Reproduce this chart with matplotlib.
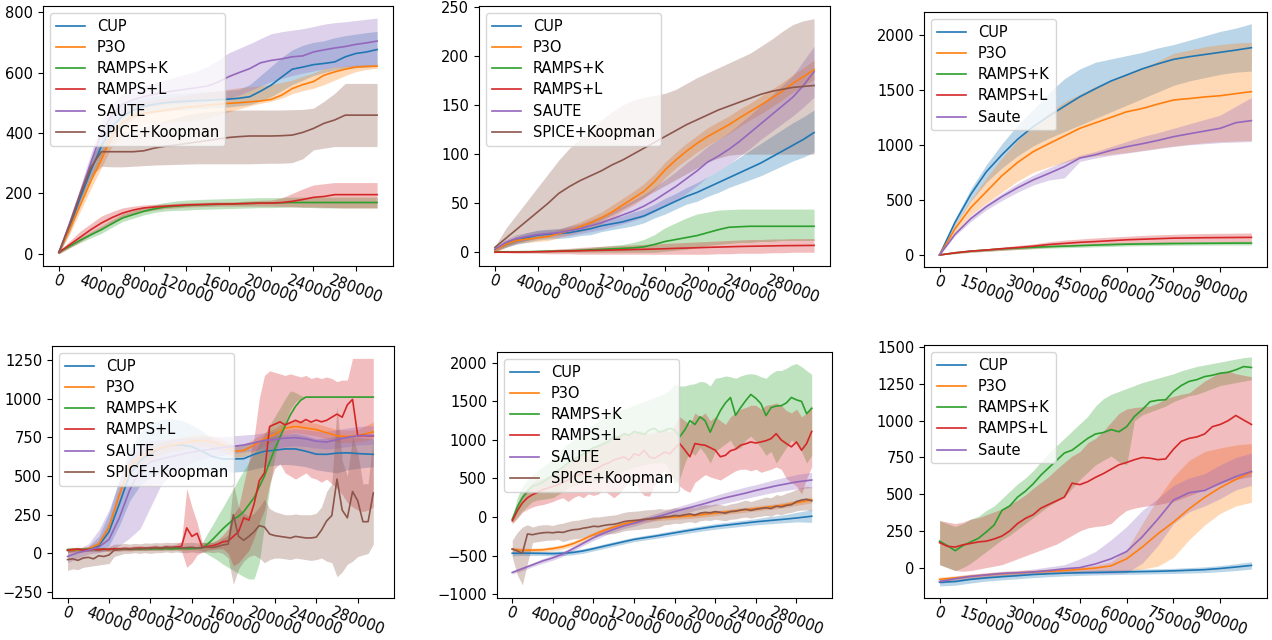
import numpy as np
import matplotlib
matplotlib.use("Agg")
import matplotlib.pyplot as plt

# ---------------------------------------------------------------- x grids
x_300k = np.arange(0, 310000, 10000)            # 31 pts, top panels
x_1m = np.arange(0, 1050000, 50000)             # 21 pts
x_fine = np.arange(0, 300000, 5000)             # 60 pts, noisy bottom panels
x_coarse = np.append(np.arange(0, 290000, 10000), 295000)  # 30 pts
x_1m_fine = np.arange(0, 1025000, 25000)        # 41 pts

# ---------------------------------------------------------------- panel 1 (top left)
a1_cup = [5, 90, 185, 275, 355, 420, 455, 475, 488, 495,
          500, 503, 505, 507, 508, 510, 512, 515, 520, 538,
          558, 585, 611, 618, 626, 630, 635, 652, 663, 668, 676]
a1_cup_lo = [0, 70, 160, 245, 320, 380, 420, 445, 460, 468,
             472, 476, 478, 480, 482, 484, 486, 490, 494, 505,
             520, 540, 560, 575, 590, 600, 608, 613, 616, 618, 620]
a1_cup_hi = [10, 110, 210, 305, 390, 460, 490, 505, 515, 522,
             527, 530, 532, 535, 537, 539, 541, 545, 560, 590,
             620, 650, 675, 690, 700, 705, 715, 722, 727, 732, 736]
a1_p3o = [5, 80, 160, 240, 311, 390, 435, 455, 465, 470,
          475, 480, 485, 488, 492, 495, 498, 500, 503, 506,
          511, 525, 547, 560, 570, 591, 602, 611, 618, 620, 621]
a1_p3o_lo = [0, 65, 140, 215, 285, 355, 395, 415, 425, 430,
             435, 438, 440, 443, 450, 460, 470, 480, 490, 498,
             505, 515, 530, 540, 548, 560, 575, 590, 603, 610, 614]
a1_p3o_hi = [10, 95, 180, 265, 340, 425, 470, 492, 503, 510,
             515, 520, 525, 530, 535, 540, 545, 550, 553, 556,
             560, 567, 575, 588, 598, 613, 618, 622, 625, 626, 627]
a1_rk = [5, 25, 45, 63, 80, 100, 119, 130, 141, 149,
         155, 158, 160, 162, 163, 164, 165, 166, 167, 168,
         168, 169, 170, 170, 170, 170, 170, 170, 170, 170, 170]
a1_rk_lo = [0, 20, 37, 53, 68, 88, 107, 118, 129, 137,
            142, 144, 145, 147, 148, 149, 150, 151, 152, 153,
            153, 154, 155, 154, 153, 152, 152, 152, 152, 152, 152]
a1_rk_hi = [10, 30, 53, 73, 92, 113, 132, 143, 154, 163,
            170, 175, 178, 180, 181, 182, 183, 184, 185, 186,
            186, 187, 188, 188, 188, 188, 188, 188, 188, 188, 188]
a1_rl = [5, 30, 55, 80, 102, 120, 135, 145, 152, 155,
         158, 160, 162, 163, 164, 165, 165, 166, 167, 168,
         168, 170, 174, 180, 187, 190, 196, 196, 196, 196, 196]
a1_rl_lo = [0, 20, 40, 62, 82, 100, 118, 130, 140, 145,
            150, 152, 155, 156, 157, 158, 158, 158, 158, 158,
            158, 157, 156, 155, 155, 154, 153, 152, 152, 152, 152]
a1_rl_hi = [10, 42, 75, 100, 125, 140, 152, 158, 162, 164,
            165, 167, 169, 170, 171, 172, 172, 173, 175, 177,
            178, 185, 200, 215, 228, 232, 236, 236, 236, 236, 236]
a1_saute = [5, 100, 200, 300, 400, 460, 495, 510, 520, 528,
            535, 540, 545, 550, 555, 568, 586, 600, 613, 632,
            640, 645, 652, 655, 668, 675, 681, 686, 693, 698, 704]
a1_saute_lo = [0, 85, 180, 270, 365, 425, 460, 475, 485, 490,
               495, 498, 500, 502, 505, 510, 515, 525, 540, 555,
               570, 580, 590, 598, 605, 612, 618, 620, 620, 620, 620]
a1_saute_hi = [10, 115, 220, 330, 435, 495, 530, 545, 555, 565,
               575, 585, 595, 605, 620, 640, 665, 680, 695, 712,
               728, 735, 740, 745, 752, 760, 765, 768, 772, 776, 780]
a1_spice = [5, 95, 195, 285, 338, 338, 338, 338, 341, 350,
            356, 360, 365, 370, 375, 380, 385, 388, 390, 390,
            390, 391, 393, 402, 415, 432, 443, 459, 459, 459, 459]
a1_spice_lo = [0, 85, 175, 255, 290, 288, 288, 290, 292, 294,
               295, 296, 297, 298, 298, 298, 298, 298, 298, 299,
               300, 300, 302, 315, 344, 350, 355, 355, 355, 355, 355]
a1_spice_hi = [10, 105, 215, 315, 375, 390, 400, 410, 420, 430,
               440, 450, 460, 466, 470, 473, 475, 476, 476, 476,
               476, 476, 477, 478, 482, 505, 531, 564, 564, 564, 564]

# ---------------------------------------------------------------- panel 2 (top middle)
a2_cup = [3, 8, 12, 15, 17.5, 18.5, 19, 20, 22, 24,
          27, 29, 31, 34, 37, 42, 47, 52, 57, 61,
          66, 71, 76, 81, 86, 91, 97, 103, 109, 115, 122]
a2_cup_lo = [2, 5, 8, 10, 12.5, 13.5, 14, 15, 17, 18,
             21, 23, 25, 27, 30, 35, 39, 44, 49, 52,
             57, 61, 66, 70, 74, 78, 83, 88, 93, 97, 102]
a2_cup_hi = [4, 11, 16, 20, 22.5, 23.5, 24, 25, 27, 30,
             33, 35, 37, 41, 44, 49, 55, 60, 66, 71,
             77, 83, 90, 97, 104, 111, 118, 125, 132, 138, 145]
a2_p3o = [2, 8, 12, 13.5, 14.5, 16, 19, 22, 26, 30,
          35, 41, 48, 55, 62, 72, 84, 94, 103, 111,
          118, 124, 130, 137, 143.5, 150, 157, 164, 172, 179, 186]
a2_p3o_lo = [0, 5, 9, 10, 11, 12, 15, 18, 21, 24,
             29, 35, 42, 48, 55, 64, 76, 86, 94, 102,
             109, 115, 121, 128, 135, 141, 148, 155, 163, 170, 176]
a2_p3o_hi = [3, 11, 15, 17, 18, 20, 23, 27, 31, 36,
             41, 48, 55, 62, 70, 80, 92, 102, 111, 119,
             127, 133, 139, 146, 152, 159, 166, 173, 181, 188, 196]
a2_rk = [0.5, 0.5, 0.5, 0.6, 0.8, 1, 1.2, 1.5, 2, 2.5,
         3, 3.5, 4, 4.5, 5.5, 8, 11, 13, 15, 17,
         20, 23, 25.5, 26, 26.5, 26.5, 26.5, 26.5, 26.5, 26.5, 26.5]
a2_rk_lo = [0, 0, 0, 0, 0, 0, 0, 0, 0, 0,
            0, 0, 0, 0, 0, 0, 1, 2, 3, 5,
            7, 8, 9, 10, 10, 11, 11, 12, 12, 12, 12]
a2_rk_hi = [1, 1, 1, 1.5, 2, 2.5, 3, 3.5, 4, 5,
            6, 7, 8, 10, 13, 18, 25, 30, 35, 39,
            41, 43, 43.5, 44, 44, 44, 44, 44, 44, 44, 44]
a2_rl = [0, 0.1, 0.2, 0.3, 0.5, 0.7, 1, 1.2, 1.5, 1.8,
         2, 2.2, 2.5, 2.8, 3, 3.3, 3.6, 4, 4.3, 4.6,
         5, 5.3, 5.6, 5.9, 6.1, 6.3, 6.5, 6.7, 6.8, 6.9, 7]
a2_rl_lo = [0, -0.5, -1, -1, -1, -1.5, -1.5, -1.5, -2, -2,
            -2, -2, -2, -2, -2, -2, -2, -2, -2, -2,
            -2, -1.5, -1.5, -1, -1, -1, -0.5, -0.5, 0, 0, 0]
a2_rl_hi = [0.5, 0.7, 1.2, 1.6, 2, 2.5, 3.5, 4, 5, 5.5,
            6, 6.5, 7, 7.5, 8, 8.5, 9, 9.5, 10, 10.5,
            11, 11.5, 12, 12.5, 13, 13, 13.5, 13.5, 14, 14, 14]
a2_saute = [3, 10, 14, 16, 18, 19, 20, 22, 24, 27,
            30, 34, 38, 42, 47, 53, 60, 67, 75, 83,
            92, 98, 105, 113, 122, 131, 140, 149, 158, 170, 184]
a2_saute_lo = [1, 7, 10, 12, 14, 15, 16, 17, 19, 21,
               23, 26, 29, 32, 36, 41, 47, 53, 60, 68,
               77, 83, 90, 98, 106, 115, 123, 131, 139, 148, 158]
a2_saute_hi = [5, 13, 18, 20, 22, 23, 24, 27, 29, 33,
               37, 42, 47, 53, 59, 66, 74, 82, 91, 99,
               108, 115, 122, 131, 140, 150, 160, 170, 180, 195, 210]
a2_spice = [5, 14, 23, 32, 41, 50, 60, 67, 73, 78,
            83, 89, 94, 100, 106, 112, 118, 124, 130, 135,
            140, 145, 149, 153, 157, 161, 164, 166, 168, 169, 170]
a2_spice_lo = [0, 5, 9, 12, 15, 17, 20, 22, 25, 29,
               33, 38, 44, 50, 56, 62, 68, 74, 80, 86,
               92, 96, 99, 100, 100, 100, 100, 100, 100, 100, 100]
a2_spice_hi = [6, 24, 38, 52, 66, 80, 94, 106, 116, 126,
               135, 143, 150, 155, 158, 160, 162, 166, 172, 178,
               183, 188, 193, 198, 203, 210, 217, 225, 232, 236, 238]

# ---------------------------------------------------------------- panel 3 (top right)
a3_cup = [0, 300, 550, 756, 910, 1050, 1165, 1260, 1350, 1437, 1510,
          1580, 1634, 1690, 1735, 1776, 1800, 1820, 1840, 1860, 1882]
a3_cup_lo = [0, 270, 490, 660, 790, 900, 990, 1060, 1120, 1180, 1240,
             1300, 1360, 1420, 1480, 1540, 1580, 1610, 1640, 1660, 1670]
a3_cup_hi = [0, 330, 600, 820, 1010, 1180, 1320, 1470, 1600, 1690, 1750,
             1780, 1810, 1840, 1880, 1910, 1950, 1990, 2030, 2060, 2100]
a3_p3o = [0, 240, 430, 575, 720, 840, 938, 1010, 1080, 1150, 1200,
          1250, 1300, 1330, 1370, 1407, 1420, 1435, 1446, 1465, 1483]
a3_p3o_lo = [0, 200, 360, 470, 570, 670, 750, 800, 840, 880, 900,
             915, 930, 950, 970, 990, 1005, 1020, 1030, 1035, 1040]
a3_p3o_hi = [0, 280, 500, 700, 880, 1040, 1170, 1290, 1390, 1460, 1530,
             1590, 1650, 1700, 1760, 1830, 1860, 1890, 1910, 1925, 1930]
a3_rk = [0, 20, 35, 45, 55, 63, 70, 76, 80, 85, 90,
         94, 98, 100, 102, 104, 105, 106, 107, 108, 108]
a3_rk_lo = [0, 12, 25, 33, 42, 50, 56, 62, 66, 70, 74,
            78, 82, 84, 86, 88, 89, 90, 90, 91, 91]
a3_rk_hi = [0, 28, 45, 57, 68, 76, 84, 90, 95, 100, 106,
            110, 114, 116, 118, 120, 121, 122, 123, 124, 125]
a3_rl = [0, 20, 35, 45, 57, 68, 80, 95, 105, 115, 122,
         130, 138, 143, 148, 153, 155, 157, 158, 159, 160]
a3_rl_lo = [0, 12, 25, 33, 42, 50, 60, 70, 80, 88, 94,
            100, 105, 108, 112, 115, 117, 118, 119, 120, 121]
a3_rl_hi = [0, 28, 45, 57, 72, 86, 100, 120, 135, 145, 155,
            163, 170, 177, 183, 188, 192, 195, 197, 198, 200]
a3_saute = [0, 190, 330, 439, 530, 610, 681, 740, 802, 880, 910,
            950, 983, 1010, 1040, 1074, 1100, 1125, 1150, 1201, 1220]
a3_saute_lo = [0, 175, 305, 410, 495, 570, 635, 680, 700, 850, 880,
               905, 925, 945, 965, 985, 1000, 1010, 1020, 1025, 1030]
a3_saute_hi = [0, 205, 355, 465, 560, 650, 725, 790, 850, 905, 940,
               985, 1030, 1075, 1110, 1150, 1190, 1230, 1270, 1350, 1430]

# ---------------------------------------------------------------- panel 4 (bottom left)
a4_cup = [20, 22, 28, 50, 140, 320, 510, 600, 645, 680,
          700, 700, 690, 660, 625, 610, 610, 612, 640, 660,
          667, 675, 675, 660, 641, 640, 648, 650, 645, 640]
a4_cup_lo = [10, 12, 15, 20, 50, 180, 340, 440, 490, 520,
             540, 550, 550, 540, 530, 525, 525, 530, 545, 560,
             570, 575, 570, 560, 540, 530, 520, 540, 550, 560]
a4_cup_hi = [30, 32, 45, 110, 260, 480, 680, 780, 840, 865,
             870, 860, 830, 790, 740, 710, 700, 700, 720, 745,
             760, 770, 775, 760, 740, 745, 760, 760, 750, 740]
a4_p3o = [20, 22, 30, 60, 170, 380, 560, 620, 655, 680,
          700, 710, 725, 730, 720, 700, 660, 665, 700, 740,
          769, 810, 820, 810, 800, 780, 760, 755, 760, 785]
a4_p3o_lo = [5, 8, 15, 35, 130, 330, 510, 575, 610, 640,
             660, 670, 685, 690, 680, 660, 620, 625, 660, 700,
             730, 770, 780, 770, 760, 740, 720, 715, 720, 740]
a4_p3o_hi = [35, 36, 45, 85, 210, 430, 610, 665, 700, 720,
             740, 750, 765, 770, 760, 740, 700, 705, 740, 780,
             808, 850, 860, 850, 840, 820, 800, 795, 800, 850]
a4_saute = [-20, 5, 20, 40, 90, 230, 410, 540, 590, 610,
            625, 640, 655, 665, 675, 685, 692, 700, 715, 730,
            736, 745, 748, 740, 725, 720, 735, 750, 760, 762]
a4_saute_lo = [-60, -30, -5, 5, 20, 50, 100, 160, 300, 440,
               510, 550, 590, 610, 625, 635, 645, 655, 665, 675,
               680, 690, 695, 690, 680, 675, 680, 690, 700, 705]
a4_saute_hi = [20, 30, 60, 150, 280, 470, 620, 700, 730, 735,
               740, 745, 750, 755, 755, 755, 760, 765, 770, 780,
               790, 800, 805, 800, 790, 790, 800, 810, 820, 825]
a4_rk = [25, 25, 26, 25, 27, 26, 25, 27, 26, 28,
         27, 28, 27, 29, 28, 30, 29, 30, 30, 31,
         30, 31, 32, 31, 32, 33, 35, 60, 90, 125,
         160, 190, 220, 240, 270, 315, 360, 430, 500, 590,
         675, 750, 825, 895, 950, 990, 1010, 1010, 1010, 1010,
         1010, 1010, 1010, 1010, 1010, 1010, 1010, 1010, 1010, 1010]
a4_rk_lo = [15, 16, 17, 16, 18, 17, 16, 18, 17, 19,
            18, 19, 18, 20, 19, 21, 20, 21, 21, 22,
            21, 22, 23, 22, 23, 24, 15, -5, -25, -45,
            -70, -90, -110, -130, -150, -165, -165, -60, 180, 420,
            620, 760, 850, 930, 980, 1005, 1009, 1009, 1009, 1009,
            1009, 1009, 1009, 1009, 1009, 1009, 1009, 1009, 1009, 1009]
a4_rk_hi = [35, 34, 35, 34, 36, 35, 34, 36, 35, 37,
            36, 37, 36, 38, 37, 39, 38, 39, 39, 40,
            39, 40, 41, 40, 41, 42, 70, 130, 185, 245,
            300, 360, 420, 480, 535, 590, 650, 710, 770, 830,
            885, 940, 1000, 1050, 1040, 1020, 1011, 1011, 1011, 1011,
            1011, 1011, 1011, 1011, 1011, 1011, 1011, 1011, 1011, 1011]
a4_rl = [20, 25, 28, 22, 25, 27, 24, 28, 26, 30,
         28, 32, 30, 33, 35, 32, 36, 38, 35, 40,
         38, 42, 45, 165, 110, 130, 40, 45, 50, 60,
         75, 80, 110, 140, 230, 215, 320, 470, 520, 820,
         835, 850, 830, 845, 860, 845, 865, 848, 862, 850,
         860, 880, 900, 880, 960, 995, 760, 762, 760, 760]
a4_rl_lo = [8, 12, 15, 10, 12, 14, 11, 15, 13, 16,
            14, 18, 16, 19, 20, 18, 21, 22, 20, 24,
            22, 25, 15, -90, -60, -10, 10, 20, 25, 30,
            30, 0, -80, -60, -20, 20, 100, 200, 280, 450,
            550, 580, 520, 500, 480, 500, 520, 490, 480, 460,
            480, 450, 420, 380, 330, 300, 280, 270, 280, 300]
a4_rl_hi = [32, 38, 40, 35, 38, 40, 37, 41, 39, 44,
            42, 46, 44, 47, 50, 46, 51, 54, 50, 56,
            54, 60, 80, 420, 300, 200, 70, 70, 75, 90,
            120, 160, 250, 300, 450, 600, 750, 1000, 1150, 1180,
            1170, 1160, 1150, 1160, 1150, 1140, 1150, 1130, 1140, 1130,
            1140, 1130, 1110, 1120, 1120, 1260, 1260, 1260, 1260, 1260]
a4_spice = [-40, -35, -45, -30, -25, -35, -15, -20, -10, 20,
            25, 30, 28, 32, 30, 35, 33, 38, 35, 40,
            38, 40, 35, 38, 40, 35, 38, 40, 38, 45,
            55, 60, 250, 110, 85, 110, 140, 180, 170, 125,
            115, 110, 105, 100, 110, 105, 100, 100, 105, 150,
            210, 245, 480, 280, 230, 400, 340, 205, 205, 390]
a4_spice_lo = [-110, -100, -105, -90, -85, -80, -75, -70, -65, -20,
               -10, 0, 0, 5, 0, 5, 0, 5, 5, 10,
               5, 10, 5, 5, 10, 5, 5, 10, 5, 10,
               0, -30, -200, -100, -50, -20, -10, -30, -60, -40,
               -30, -30, -35, -40, -30, -35, -40, -45, -40, -30,
               -50, -60, -150, -120, -70, -50, -20, -10, 0, 60]
a4_spice_hi = [15, 20, 10, 25, 30, 20, 40, 35, 45, 60,
               60, 65, 60, 65, 62, 68, 66, 70, 68, 72,
               70, 72, 68, 70, 72, 68, 70, 72, 70, 80,
               100, 120, 450, 300, 260, 240, 260, 300, 350, 290,
               270, 260, 250, 250, 255, 250, 250, 250, 260, 300,
               400, 450, 950, 600, 500, 750, 650, 450, 450, 750]

# ---------------------------------------------------------------- panel 5 (bottom middle)
a5_cup = [-470, -470, -470, -472, -475, -470, -460, -440, -411, -380,
          -350, -320, -291, -270, -250, -228, -205, -183, -162, -142,
          -123, -107, -92, -77, -62, -50, -38, -26, -13, 10]
a5_cup_lo = [-505, -500, -500, -500, -505, -500, -490, -470, -440, -410,
             -380, -350, -320, -300, -280, -260, -237, -216, -196, -177,
             -159, -144, -130, -116, -102, -92, -82, -73, -63, -70]
a5_cup_hi = [-440, -440, -440, -445, -445, -440, -430, -410, -382, -350,
             -320, -290, -262, -240, -220, -196, -173, -150, -128, -107,
             -87, -70, -54, -38, -22, 0, 15, 35, 60, 95]
a5_p3o = [-420, -430, -430, -425, -410, -385, -345, -290, -230, -175,
          -130, -90, -60, -35, -20, -8, 0, 10, 20, 35,
          50, 65, 80, 95, 110, 125, 140, 160, 185, 222]
a5_p3o_lo = [-450, -455, -455, -450, -440, -415, -375, -320, -260, -205,
             -160, -120, -90, -65, -50, -40, -32, -22, -12, 3,
             18, 33, 48, 63, 78, 93, 108, 125, 150, 185]
a5_p3o_hi = [-390, -405, -405, -400, -380, -355, -315, -260, -200, -145,
             -100, -60, -30, -5, 10, 22, 32, 42, 52, 67,
             82, 97, 112, 127, 142, 157, 172, 195, 220, 260]
a5_saute = [-720, -670, -620, -570, -530, -480, -410, -340, -270, -210,
            -160, -115, -80, -40, -5, 30, 70, 105, 140, 175,
            215, 250, 280, 310, 345, 375, 405, 430, 455, 480]
a5_saute_lo = [-740, -695, -645, -600, -560, -510, -440, -370, -305, -245,
               -195, -150, -120, -80, -45, -15, 20, 50, 85, 115,
               150, 180, 210, 240, 270, 300, 325, 345, 365, 380]
a5_saute_hi = [-700, -645, -595, -540, -500, -450, -380, -310, -235, -175,
               -125, -80, -40, 0, 40, 80, 120, 160, 200, 240,
               280, 320, 355, 390, 420, 455, 490, 520, 550, 580]
a5_rk = [-30, 130, 250, 330, 400, 420, 450, 500, 540, 600,
         650, 700, 750, 780, 820, 860, 900, 920, 950, 980,
         1050, 1030, 1080, 1060, 1110, 1090, 1070, 1130, 1150, 1100,
         1120, 1150, 1130, 1040, 1130, 1250, 1200, 1300, 1250, 1100,
         1250, 1380, 1480, 1550, 1320, 1420, 1510, 1590, 1540, 1470,
         1316, 1420, 1440, 1444, 1480, 1551, 1520, 1500, 1340, 1410]
a5_rk_lo = [-80, 0, 80, 140, 200, 220, 230, 240, 250, 290,
            330, 380, 400, 420, 430, 440, 450, 480, 500, 520,
            550, 570, 600, 620, 650, 660, 680, 690, 700, 700,
            700, 600, 420, 500, 700, 850, 800, 900, 820, 700,
            850, 900, 950, 1000, 880, 900, 1000, 1050, 980, 900,
            800, 850, 700, 800, 900, 1000, 950, 850, 700, 800]
a5_rk_hi = [-20, 250, 400, 480, 550, 600, 650, 700, 750, 800,
            900, 950, 1000, 1050, 1100, 1150, 1200, 1250, 1300, 1320,
            1350, 1380, 1400, 1420, 1450, 1480, 1500, 1520, 1550, 1580,
            1600, 1650, 1720, 1700, 1700, 1720, 1730, 1760, 1750, 1700,
            1800, 1810, 1830, 1820, 1800, 1830, 1850, 1860, 1850, 1820,
            1800, 1860, 1900, 1900, 1930, 1970, 1990, 1950, 1900, 1850]
a5_rl = [-50, 80, 183, 250, 290, 320, 354, 375, 397, 420,
         450, 480, 526, 540, 560, 580, 610, 640, 680, 700,
         740, 760, 780, 739, 820, 800, 867, 780, 760, 800,
         843, 820, 888, 953, 870, 782, 953, 940, 931, 900,
         867, 782, 800, 860, 880, 931, 950, 974, 960, 974,
         990, 1017, 1081, 1000, 953, 910, 974, 867, 953, 1110]
a5_rl_lo = [-90, -20, 60, 100, 130, 150, 160, 180, 200, 230,
            250, 200, 250, 280, 250, 300, 280, 300, 350, 300,
            250, 300, 380, 450, 500, 350, 280, 270, 400, 550,
            600, 520, 500, 400, 350, 320, 450, 500, 550, 520,
            500, 480, 520, 560, 600, 620, 620, 600, 620, 580,
            600, 620, 650, 620, 500, 450, 400, 300, 500, 650]
a5_rl_hi = [-20, 180, 300, 380, 450, 480, 500, 520, 550, 600,
            650, 700, 750, 780, 820, 850, 900, 950, 980, 1020,
            1050, 1070, 1100, 1080, 1100, 1120, 1100, 1080, 1100, 1120,
            1150, 1100, 1200, 1300, 1250, 1200, 1350, 1300, 1350, 1250,
            1300, 1250, 1200, 1300, 1350, 1400, 1420, 1450, 1450, 1400,
            1450, 1460, 1480, 1450, 1380, 1350, 1400, 1300, 1350, 1450]
a5_spice = [-415, -440, -470, -220, -230, -215, -205, -200, -205, -195,
            -200, -180, -165, -160, -145, -135, -120, -125, -110, -100,
            -95, -80, -60, -50, -45, -40, -30, -25, -20, -10,
            0, 5, 20, 15, 30, 40, 25, 50, 60, 55,
            70, 60, 50, 70, 75, 90, 100, 85, 100, 110,
            120, 110, 140, 130, 150, 160, 200, 220, 230, 210]
a5_spice_lo = [-520, -750, -880, -600, -330, -320, -310, -300, -300, -290,
               -320, -300, -285, -280, -265, -255, -240, -245, -230, -220,
               -215, -200, -180, -170, -165, -160, -150, -145, -140, -130,
               -100, -95, -80, -85, -70, -60, -75, -50, -40, -45,
               -30, -40, -50, -30, -25, -10, 0, -15, 0, 10,
               20, 10, 40, 30, 50, 60, 80, 90, 90, 80]
a5_spice_hi = [-300, -200, -130, -100, -130, -110, -100, -100, -110, -90,
               -80, -60, -45, -40, -25, -15, 0, 0, 10, 20,
               25, 40, 60, 70, 75, 80, 90, 95, 100, 110,
               100, 105, 120, 115, 130, 140, 125, 150, 160, 155,
               170, 160, 150, 170, 180, 200, 220, 200, 220, 240,
               260, 250, 290, 280, 310, 330, 360, 380, 400, 390]

# ---------------------------------------------------------------- panel 6 (bottom right)
a6_cup = [-100, -95, -80, -70, -62, -55, -47, -42, -38, -35, -33,
          -31, -29, -27, -25, -22, -18, -14, -6, 4, 15]
a6_cup_lo = [-125, -120, -105, -92, -84, -76, -68, -62, -57, -53, -50,
             -48, -46, -44, -42, -40, -37, -34, -28, -20, -10]
a6_cup_hi = [-80, -75, -62, -52, -44, -37, -30, -25, -21, -18, -16,
             -14, -12, -10, -8, -5, 0, 5, 14, 26, 40]
a6_p3o = [-80, -70, -60, -50, -42, -36, -30, -25, -20, -12, -3,
          12, 60, 140, 230, 310, 400, 478, 545, 600, 650]
a6_p3o_lo = [-95, -85, -75, -65, -57, -50, -45, -40, -35, -30, -25,
             -22, -20, -10, 10, 70, 190, 290, 370, 420, 445]
a6_p3o_hi = [-65, -55, -45, -35, -27, -22, -15, -10, -5, 5, 15,
             40, 120, 300, 470, 620, 730, 790, 815, 835, 845]
a6_saute = [-95, -75, -60, -50, -40, -35, -30, -20, -8, 0, 25,
            60, 110, 210, 330, 460, 510, 525, 575, 620, 655]
a6_saute_lo = [-110, -90, -75, -65, -55, -50, -45, -40, -40, -40, -40,
               -40, -35, 30, 150, 300, 380, 420, 470, 530, 560]
a6_saute_hi = [-80, -60, -45, -35, -25, -20, -10, 5, 20, 60, 110,
               190, 280, 390, 470, 560, 610, 640, 700, 750, 780]
a6_rk = [180, 150, 115, 150, 175, 200, 243, 290, 390, 420,
         480, 520, 570, 630, 680, 730, 780, 800, 840, 880,
         910, 920, 940, 925, 960, 1030, 1076, 1130, 1140, 1143,
         1200, 1240, 1268, 1280, 1301, 1310, 1324, 1330, 1347, 1369,
         1363]
a6_rk_lo = [20, 0, -20, 0, 30, 70, 110, 150, 190, 220,
            260, 300, 340, 380, 420, 450, 480, 540, 600, 650,
            700, 730, 760, 720, 700, 1000, 1040, 1060, 1080, 1100,
            1130, 1150, 1170, 1180, 1200, 1220, 1240, 1250, 1260, 1270,
            1280]
a6_rk_hi = [320, 300, 280, 300, 330, 350, 390, 420, 470, 520,
            570, 610, 660, 720, 780, 830, 880, 930, 980, 1030,
            1100, 1150, 1180, 1200, 1220, 1240, 1260, 1275, 1290, 1305,
            1320, 1340, 1355, 1370, 1380, 1390, 1400, 1410, 1420, 1430,
            1435]
a6_rl = [170, 145, 140, 155, 165, 175, 180, 195, 215, 250,
         300, 335, 360, 405, 430, 455, 480, 575, 565, 585,
         615, 640, 670, 700, 716, 735, 750, 745, 735, 740,
         806, 860, 880, 890, 910, 960, 975, 1000, 1036, 1005,
         975]
a6_rl_lo = [20, 0, -20, -25, -20, -10, 0, 10, 20, 40,
            60, 80, 100, 120, 140, 160, 190, 220, 250, 270,
            280, 285, 300, 350, 390, 405, 415, 423, 430, 440,
            450, 470, 490, 510, 530, 550, 570, 590, 600, 610,
            620]
a6_rl_hi = [320, 310, 300, 310, 330, 340, 360, 380, 400, 430,
            460, 495, 540, 580, 620, 670, 716, 760, 790, 850,
            880, 930, 990, 1050, 1080, 1090, 1095, 1100, 1120, 1150,
            1166, 1180, 1190, 1230, 1270, 1300, 1330, 1340, 1320, 1310,
            1300]

xt_300k = [0, 40000, 80000, 120000, 160000, 200000, 240000, 280000]
xt_1m = [0, 150000, 300000, 450000, 600000, 750000, 900000]

C = {"CUP": "#1f77b4", "P3O": "#ff7f0e", "RAMPS+K": "#2ca02c",
     "RAMPS+L": "#d62728", "SAUTE": "#9467bd", "Saute": "#9467bd",
     "SPICE+Koopman": "#8c564b"}

W, H = 1272, 640
fig = plt.figure(figsize=(W / 100, H / 100), dpi=100)


def box(left, top, right, bottom):
    return [left / W, 1 - bottom / H, (right - left) / W, (bottom - top) / H]


def panel(rect, series, xlim, ylim, xticks, yticks):
    ax = fig.add_axes(rect)
    for label, x, m, lo, hi in series:
        ax.plot(x, m, color=C[label], lw=1.2, label=label)
        ax.fill_between(x, lo, hi, color=C[label], alpha=0.3, lw=0)
    ax.set_xlim(*xlim)
    ax.set_ylim(*ylim)
    ax.set_xticks(xticks)
    ax.set_yticks(yticks)
    ax.tick_params(labelsize=10.5)
    ax.tick_params(axis="x", pad=1.5)
    for t in ax.get_xticklabels():
        t.set_rotation(-20)
    ax.legend(loc="upper left", fontsize=10.5, labelspacing=0.42)
    return ax


panel(box(43, 6, 393, 266), [
    ("CUP", x_300k, a1_cup, a1_cup_lo, a1_cup_hi),
    ("P3O", x_300k, a1_p3o, a1_p3o_lo, a1_p3o_hi),
    ("RAMPS+K", x_300k, a1_rk, a1_rk_lo, a1_rk_hi),
    ("RAMPS+L", x_300k, a1_rl, a1_rl_lo, a1_rl_hi),
    ("SAUTE", x_300k, a1_saute, a1_saute_lo, a1_saute_hi),
    ("SPICE+Koopman", x_300k, a1_spice, a1_spice_lo, a1_spice_hi),
], (-15000, 315000), (-40, 820), xt_300k, range(0, 801, 200))

panel(box(479, 6, 830, 266), [
    ("CUP", x_300k, a2_cup, a2_cup_lo, a2_cup_hi),
    ("P3O", x_300k, a2_p3o, a2_p3o_lo, a2_p3o_hi),
    ("RAMPS+K", x_300k, a2_rk, a2_rk_lo, a2_rk_hi),
    ("RAMPS+L", x_300k, a2_rl, a2_rl_lo, a2_rl_hi),
    ("SAUTE", x_300k, a2_saute, a2_saute_lo, a2_saute_hi),
    ("SPICE+Koopman", x_300k, a2_spice, a2_spice_lo, a2_spice_hi),
], (-15000, 315000), (-14, 251), xt_300k, range(0, 251, 50))

panel(box(924, 12, 1267, 267), [
    ("CUP", x_1m, a3_cup, a3_cup_lo, a3_cup_hi),
    ("P3O", x_1m, a3_p3o, a3_p3o_lo, a3_p3o_hi),
    ("RAMPS+K", x_1m, a3_rk, a3_rk_lo, a3_rk_hi),
    ("RAMPS+L", x_1m, a3_rl, a3_rl_lo, a3_rl_hi),
    ("Saute", x_1m, a3_saute, a3_saute_lo, a3_saute_hi),
], (-50000, 1050000), (-109, 2206), xt_1m, range(0, 2001, 500))

panel(box(52, 346, 394, 598), [
    ("CUP", x_coarse, a4_cup, a4_cup_lo, a4_cup_hi),
    ("P3O", x_coarse, a4_p3o, a4_p3o_lo, a4_p3o_hi),
    ("RAMPS+K", x_fine, a4_rk, a4_rk_lo, a4_rk_hi),
    ("RAMPS+L", x_fine, a4_rl, a4_rl_lo, a4_rl_hi),
    ("SAUTE", x_coarse, a4_saute, a4_saute_lo, a4_saute_hi),
    ("SPICE+Koopman", x_fine, a4_spice, a4_spice_lo, a4_spice_hi),
], (-15000, 315000), (-288, 1340), xt_300k, range(-250, 1251, 250))

panel(box(497, 352, 832, 598), [
    ("CUP", x_coarse, a5_cup, a5_cup_lo, a5_cup_hi),
    ("P3O", x_coarse, a5_p3o, a5_p3o_lo, a5_p3o_hi),
    ("RAMPS+K", x_fine, a5_rk, a5_rk_lo, a5_rk_hi),
    ("RAMPS+L", x_fine, a5_rl, a5_rl_lo, a5_rl_hi),
    ("SAUTE", x_coarse, a5_saute, a5_saute_lo, a5_saute_hi),
    ("SPICE+Koopman", x_fine, a5_spice, a5_spice_lo, a5_spice_hi),
], (-15000, 315000), (-1051, 2141), xt_300k, range(-1000, 2001, 500))

panel(box(924, 345, 1267, 598), [
    ("CUP", x_1m, a6_cup, a6_cup_lo, a6_cup_hi),
    ("P3O", x_1m, a6_p3o, a6_p3o_lo, a6_p3o_hi),
    ("RAMPS+K", x_1m_fine, a6_rk, a6_rk_lo, a6_rk_hi),
    ("RAMPS+L", x_1m_fine, a6_rl, a6_rl_lo, a6_rl_hi),
    ("Saute", x_1m, a6_saute, a6_saute_lo, a6_saute_hi),
], (-50000, 1050000), (-207, 1516), xt_1m, range(0, 1501, 250))

fig.savefig("out.png", dpi=100)
